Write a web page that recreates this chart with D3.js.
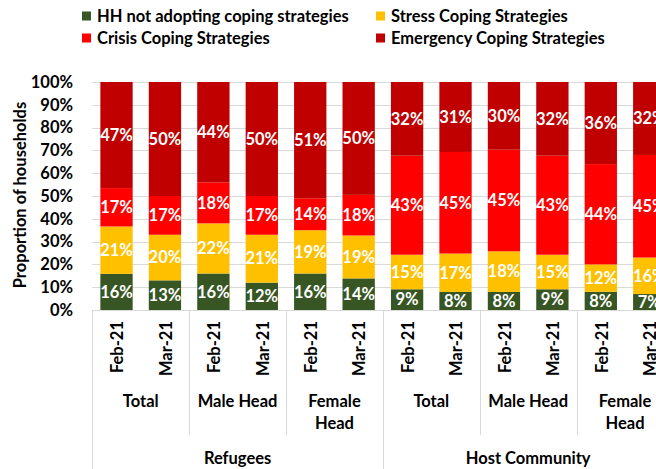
<!DOCTYPE html>
<html>
<head>
<meta charset="utf-8">
<script src="https://cdn.jsdelivr.net/npm/d3@7"></script>
<style>
  html, body { margin: 0; padding: 0; background: #fff; }
  svg { display: block; font-family: Lato, "Open Sans", sans-serif; font-weight: bold; }
</style>
</head>
<body>
<div id="chart"></div>
<script>
const months = ["Feb-21", "Mar-21"];
const subgroups = ["Total", "Male Head", "Female Head"];
const groups = ["Refugees", "Host Community"];
const seriesNames = ["HH not adopting coping strategies", "Stress Coping Strategies", "Crisis Coping Strategies", "Emergency Coping Strategies"];
const seriesColors = ["#375623", "#FFC000", "#FF0000", "#C00000"];
const noCoping  = [16, 13, 16, 12, 16, 14, 9, 8, 8, 9, 8, 7];
const stress    = [21, 20, 22, 21, 19, 19, 15, 17, 18, 15, 12, 16];
const crisis    = [17, 17, 18, 17, 14, 18, 43, 45, 45, 43, 44, 45];
const emergency = [47, 50, 44, 50, 51, 50, 32, 31, 30, 32, 36, 32];
const yTicks = [0, 0.1, 0.2, 0.3, 0.4, 0.5, 0.6, 0.7, 0.8, 0.9, 1];

const W = 656, H = 469;
const FS = 16.5;
const seriesKeys = ["noCoping", "stress", "crisis", "emergency"];
const seriesArrays = [noCoping, stress, crisis, emergency];

const bars = [];
groups.forEach((g, gi) => subgroups.forEach((s, si) => months.forEach((m, mi) => {
  const i = bars.length;
  const row = { id: i, group: g, sub: s, month: m };
  seriesKeys.forEach((k, ki) => row[k] = seriesArrays[ki][i]);
  bars.push(row);
})));

const left = 92.3, step = 48.43;
const x = d3.scaleBand().domain(bars.map(d => d.id))
  .range([left, left + step * bars.length]).paddingInner(0.333).paddingOuter(0.1665);
const y = d3.scaleLinear().domain([0, 1]).range([310, 82]);

const svg = d3.select("#chart").append("svg").attr("width", W).attr("height", H);

// gridlines
svg.append("g").selectAll("line").data(yTicks).join("line")
  .attr("x1", left).attr("x2", left + step * bars.length)
  .attr("y1", d => Math.round(y(d)) + 0.5).attr("y2", d => Math.round(y(d)) + 0.5)
  .attr("stroke", "#d9d9d9").attr("stroke-width", 1);

// y tick labels
svg.append("g").selectAll("text").data(yTicks).join("text")
  .attr("x", 73).attr("y", d => y(d)).attr("dy", "0.35em")
  .attr("text-anchor", "end").attr("font-size", FS).attr("fill", "#000")
  .text(d3.format(".0%"));

// y title
svg.append("text").attr("transform", "translate(20,195) rotate(-90)")
  .attr("text-anchor", "middle").attr("dy", "0.35em").attr("font-size", FS).attr("fill", "#000")
  .text("Proportion of households");

// stack
const stackGen = d3.stack().keys(seriesKeys).offset(d3.stackOffsetExpand);
const stacked = stackGen(bars);

const layers = svg.append("g").selectAll("g").data(stacked).join("g")
  .attr("fill", (d, i) => seriesColors[i]);
layers.selectAll("rect").data(d => d).join("rect")
  .attr("x", d => x(d.data.id)).attr("width", x.bandwidth())
  .attr("y", d => y(d[1])).attr("height", d => y(d[0]) - y(d[1]));

const labelLayers = svg.append("g").selectAll("g").data(stacked).join("g");
labelLayers.selectAll("text").data(d => d.map(p => ({ p, key: d.key }))).join("text")
  .attr("x", d => x(d.p.data.id) + x.bandwidth() / 2)
  .attr("y", d => (y(d.p[0]) + y(d.p[1])) / 2).attr("dy", "0.35em")
  .attr("text-anchor", "middle").attr("font-size", FS).attr("fill", "#fff")
  .text(d => d.p.data[d.key] + "%");

// category axis
const axisG = svg.append("g");
axisG.append("line").attr("x1", left).attr("x2", left + step * bars.length)
  .attr("y1", 310.5).attr("y2", 310.5).attr("stroke", "#d9d9d9");

axisG.selectAll("text.month").data(bars).join("text").attr("class", "month")
  .attr("transform", d => `translate(${x(d.id) + x.bandwidth() / 2 + 1},321) rotate(-90)`)
  .attr("text-anchor", "end").attr("dy", "0.35em").attr("font-size", FS).attr("fill", "#000")
  .text(d => d.month);

// subgroup labels and separators
const subItems = [];
groups.forEach((g, gi) => subgroups.forEach((s, si) => subItems.push({ g, s, start: (gi * subgroups.length + si) * months.length })));
const subX0 = d => x(d.start) - x.step() * x.paddingInner() / 2;
const subW = x.step() * months.length;

axisG.selectAll("line.sub").data(subItems).join("line").attr("class", "sub")
  .attr("x1", d => Math.round(subX0(d)) + 0.5).attr("x2", d => Math.round(subX0(d)) + 0.5)
  .attr("y1", 310).attr("y2", (d, i) => (i % subgroups.length === 0) ? H : 435)
  .attr("stroke", "#d9d9d9");

const subText = axisG.selectAll("text.sub").data(subItems).join("text").attr("class", "sub")
  .attr("x", d => subX0(d) + subW / 2).attr("y", 401).attr("dy", "0.35em")
  .attr("text-anchor", "middle").attr("font-size", FS).attr("fill", "#000");
subText.each(function(d) {
  const t = d3.select(this);
  if (d.s === "Female Head") {
    t.append("tspan").attr("x", subX0(d) + subW / 2).text("Female");
    t.append("tspan").attr("x", subX0(d) + subW / 2).attr("dy", "1.32em").text("Head");
  } else {
    t.text(d.s);
  }
});

// group labels
const gW = subW * subgroups.length;
axisG.selectAll("text.grp").data(groups).join("text").attr("class", "grp")
  .attr("x", (d, i) => subX0(subItems[i * subgroups.length]) + gW / 2).attr("y", 458).attr("dy", "0.35em")
  .attr("text-anchor", "middle").attr("font-size", FS).attr("fill", "#000")
  .text(d => d);

// legend
const legendPos = [[82, 16], [376, 16], [82, 38], [376, 38]];
const leg = svg.append("g").selectAll("g").data(seriesNames).join("g")
  .attr("transform", (d, i) => `translate(${legendPos[i][0]},${legendPos[i][1]})`);
leg.append("rect").attr("x", 0).attr("y", -4.5).attr("width", 9).attr("height", 9)
  .attr("fill", (d, i) => seriesColors[i]);
leg.append("text").attr("x", 15).attr("dy", "0.35em").attr("font-size", FS).attr("fill", "#000")
  .text(d => d);
</script>
</body>
</html>
